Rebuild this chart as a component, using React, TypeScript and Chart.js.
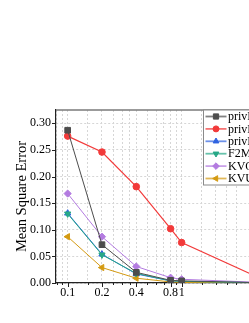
import React, { useEffect, useRef } from 'react';
import { Chart, registerables } from 'chart.js';
import { drawPoint } from 'chart.js/helpers';

Chart.register(...registerables);

// ---- data ----
const xValues = [0.1, 0.2, 0.4, 0.8, 1, 5];
const seriesNames = ['privKV', 'privKVM', 'privKVM*', 'F2M', 'KVOH', 'KVUE'];
const privKV = [0.287, 0.072, 0.020, 0.005, 0.004, 0.0005];
const privKVM = [0.276, 0.246, 0.181, 0.102, 0.076, 0.008];
const privKVMstar = [0.131, 0.054, 0.017, 0.004, 0.003, 0.0004];
const f2m = [0.130, 0.053, 0.018, 0.004, 0.003, 0.0004];
const kvoh = [0.168, 0.087, 0.031, 0.010, 0.007, 0.001];
const kvue = [0.087, 0.029, 0.009, 0.002, 0.001, 0.0002];
const xTickValues = [0.08, 0.09, 0.1, 0.15, 0.2, 0.25, 0.3, 0.35, 0.4, 0.5, 0.6, 0.7, 0.8, 0.9, 1, 1.5, 2, 2.5, 3, 4, 5, 6, 7, 8];
const xTickLabels = [0.1, 0.2, 0.4, 0.8, 1];
const yAxisTitle = 'Mean Square Error';

// ---- styles ----
const FONT = "'Liberation Serif', 'DejaVu Serif', serif";
const styles = [
  { color: '#4d4d4d', pointStyle: 'rect', rotation: 0, radius: 4, order: 0 },
  { color: '#f23a3a', pointStyle: 'circle', rotation: 0, radius: 3.3, order: 0 },
  { color: '#2f63e0', pointStyle: 'triangle', rotation: 0, radius: 3.6, order: 1 },
  { color: '#27a887', pointStyle: 'triangle', rotation: 180, radius: 3.6, order: 0 },
  { color: '#b37be0', pointStyle: 'rectRot', rotation: 0, radius: 3.6, order: 0 },
  { color: '#d49a12', pointStyle: 'triangle', rotation: -90, radius: 3.6, order: 0 },
];

const isMajorY = (v: number) => Math.abs(v / 0.05 - Math.round(v / 0.05)) < 1e-6;

export default function App() {
  const ref = useRef<HTMLCanvasElement>(null);

  useEffect(() => {
    const series = [privKV, privKVM, privKVMstar, f2m, kvoh, kvue];

    const decor = {
      id: 'decor',
      afterDraw(chart: any) {
        const ctx = chart.ctx;
        const area = chart.chartArea;
        const xs = chart.scales.x;
        const ys = chart.scales.y;
        ctx.save();
        // tick marks
        ctx.strokeStyle = '#222';
        ctx.lineWidth = 1;
        ys.ticks.forEach((t: any) => {
          const y = Math.round(ys.getPixelForValue(t.value)) + 0.5;
          const len = isMajorY(t.value) ? 4 : 2;
          ctx.beginPath();
          ctx.moveTo(area.left - len, y);
          ctx.lineTo(area.left, y);
          ctx.stroke();
        });
        xs.ticks.forEach((t: any) => {
          if (t.value < xs.min || t.value > xs.max) return;
          const x = Math.round(xs.getPixelForValue(t.value)) + 0.5;
          const len = xTickLabels.includes(t.value) ? 4 : 2;
          ctx.beginPath();
          ctx.moveTo(x, area.bottom);
          ctx.lineTo(x, area.bottom + len);
          ctx.stroke();
        });
        // top frame
        ctx.strokeStyle = '#7a7a7a';
        ctx.lineWidth = 1.5;
        ctx.beginPath();
        ctx.moveTo(area.left, area.top);
        ctx.lineTo(area.right, area.top);
        ctx.stroke();

        // legend box (inside plot, top right)
        const bx = 203.5, by = area.top, bw = 85, rowH = 12.4, bh = 75;
        ctx.fillStyle = '#fff';
        ctx.fillRect(bx, by, bw, bh);
        ctx.strokeStyle = '#8a8a8a';
        ctx.lineWidth = 1;
        ctx.strokeRect(bx, by, bw, bh);
        chart.data.datasets.forEach((ds: any, i: number) => {
          const st = styles[i];
          const y = by + 6.5 + i * rowH;
          ctx.strokeStyle = st.color;
          ctx.globalAlpha = 0.7;
          ctx.lineWidth = 1.8;
          ctx.beginPath();
          ctx.moveTo(bx + 2, y);
          ctx.lineTo(bx + 23, y);
          ctx.stroke();
          ctx.globalAlpha = 1;
          ctx.fillStyle = st.color;
          ctx.strokeStyle = st.color;
          ctx.lineWidth = 1;
          drawPoint(ctx, { pointStyle: st.pointStyle, rotation: st.rotation, radius: st.radius - 0.3, borderWidth: 1 } as any, bx + 12.5, y);
          ctx.fillStyle = '#000';
          ctx.font = `12px ${FONT}`;
          ctx.textBaseline = 'middle';
          ctx.textAlign = 'left';
          ctx.fillText(ds.label, bx + 24.5, y + 0.5);
        });
        ctx.restore();
      },
    };

    const chart = new Chart(ref.current as HTMLCanvasElement, {
      type: 'line',
      data: {
        datasets: series.map((vals, i) => ({
          label: seriesNames[i],
          data: xValues.map((x, j) => ({ x, y: vals[j] })),
          borderColor: styles[i].color,
          backgroundColor: styles[i].color,
          pointBackgroundColor: styles[i].color,
          pointBorderColor: styles[i].color,
          pointStyle: styles[i].pointStyle as any,
          pointRotation: styles[i].rotation,
          pointRadius: styles[i].radius,
          pointBorderWidth: 1,
          borderWidth: i === 1 ? 1.2 : 1,
          tension: 0,
          order: styles[i].order,
        })),
      },
      options: {
        responsive: false,
        animation: false,
        devicePixelRatio: 1,
        layout: { padding: { top: 110, right: 10, left: 0, bottom: 0 } },
        plugins: { legend: { display: false }, tooltip: { enabled: false } },
        scales: {
          x: {
            type: 'logarithmic',
            min: 0.079,
            max: 8.93,
            afterBuildTicks: (s: any) => {
              s.ticks = xTickValues.map((v) => ({ value: v }));
            },
            afterFit: (s: any) => {
              s.height = 40;
            },
            ticks: {
              autoSkip: false,
              maxRotation: 0,
              minRotation: 0,
              padding: 3,
              color: '#000',
              font: { family: FONT, size: 12 },
              callback: (v: any) => (xTickLabels.includes(Number(v)) ? String(v) : ''),
            },
            grid: { color: '#d6d6d6', lineWidth: 1, drawTicks: false },
            border: { display: true, color: '#222', width: 1.2, dash: [2, 2] },
          },
          y: {
            min: 0,
            max: 0.325,
            afterFit: (s: any) => {
              s.width = 56;
            },
            ticks: {
              stepSize: 0.025,
              padding: 5,
              color: '#000',
              font: { family: FONT, size: 12 },
              callback: (v: any) => (isMajorY(Number(v)) ? Number(v).toFixed(2) : ''),
            },
            grid: { color: '#d6d6d6', lineWidth: 1, drawTicks: false },
            border: { display: true, color: '#222', width: 1.2, dash: [2, 2] },
            title: {
              display: true,
              text: yAxisTitle,
              color: '#000',
              font: { family: FONT, size: 14.5 },
              padding: { top: 13, bottom: 0 },
            },
          },
        },
      },
      plugins: [decor],
    });
    return () => chart.destroy();
  }, []);

  return (
    <div style={{ position: 'absolute', left: 0, top: 0, width: 249, height: 323, overflow: 'hidden', background: '#fff' }}>
      <canvas ref={ref} width={300} height={323} style={{ display: 'block', width: 300, height: 323 }} />
    </div>
  );
}
